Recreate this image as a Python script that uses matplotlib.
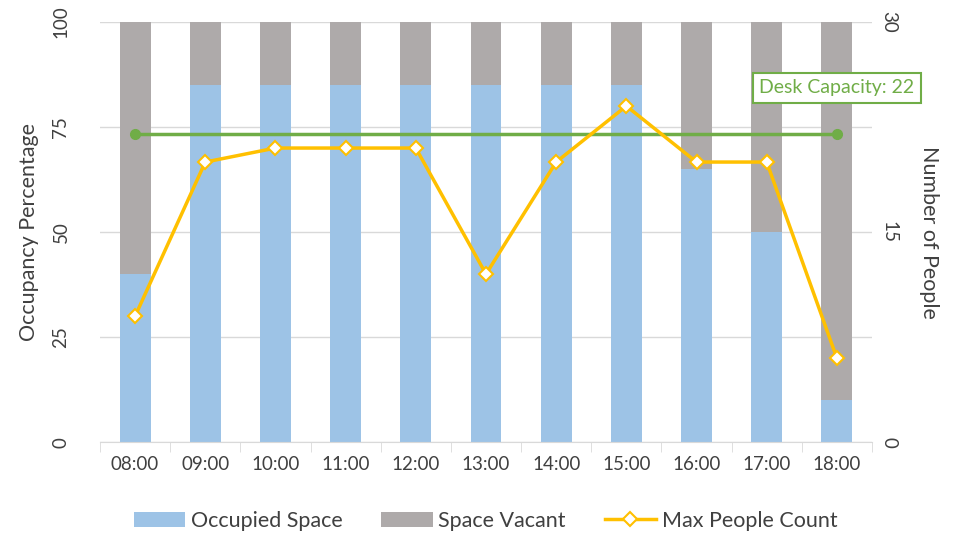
import numpy as np
import matplotlib.pyplot as plt

hours = ["08:00", "09:00", "10:00", "11:00", "12:00", "13:00",
         "14:00", "15:00", "16:00", "17:00", "18:00"]
occupied = [40, 85, 85, 85, 85, 85, 85, 85, 65, 50, 10]
vacant = [100 - v for v in occupied]
max_people = [9, 20, 21, 21, 21, 12, 20, 24, 20, 20, 6]
desk_capacity = 22

BLUE = "#9DC3E6"
GREY = "#AEAAAA"
YELLOW = "#FFC000"
GREEN = "#70AD47"
TEXT = "#404040"

plt.rcParams["font.family"] = ["Lato", "DejaVu Sans"]

fig = plt.figure(figsize=(9.71, 5.36), dpi=100)
ax = fig.add_axes([0.103, 0.175, 0.795, 0.784])
x = np.arange(len(hours))

b1 = ax.bar(x, occupied, width=0.44, color=BLUE, label="Occupied Space", zorder=2)
b2 = ax.bar(x, vacant, width=0.44, bottom=occupied, color=GREY,
            label="Space Vacant", zorder=2)

ax.set_xlim(-0.5, len(hours) - 0.5)
ax.set_ylim(0, 100)
ax.set_yticks([0, 25, 50, 75, 100])
ax.set_yticklabels(["0", "25", "50", "75", "100"], rotation=90, va="center")
ax.set_xticks(x)
ax.set_xticklabels(hours)
ax.set_xticks(np.arange(-0.5, len(hours)), minor=True)
ax.tick_params(axis="x", which="major", length=0, pad=10, labelsize=13.5, colors=TEXT)
ax.tick_params(axis="x", which="minor", length=7, color="#D9D9D9")
ax.tick_params(axis="y", length=0, pad=22, labelsize=13.5, colors=TEXT)
ax.grid(axis="y", color="#D9D9D9", lw=1, zorder=0)
for s in ["top", "right", "left"]:
    ax.spines[s].set_visible(False)
ax.spines["bottom"].set_color("#D9D9D9")
ax.set_ylabel("Occupancy Percentage", fontsize=15.5, color=TEXT, labelpad=10)

ax2 = ax.twinx()
ax2.set_ylim(0, 30)
ax2.set_yticks([0, 15, 30])
ax2.set_yticklabels(["0", "15", "30"], rotation=-90, va="center")
ax2.tick_params(axis="y", length=0, pad=6, labelsize=13.5, colors=TEXT)
for s in ax2.spines.values():
    s.set_visible(False)
ax2.set_ylabel("Number of People", fontsize=15.5, color=TEXT, rotation=-90,
               labelpad=30)

ax2.plot([x[0], x[-1]], [desk_capacity, desk_capacity], color=GREEN, lw=2.5,
         marker="o", ms=7, zorder=3)
ln, = ax2.plot(x, max_people, color=YELLOW, lw=2.5, marker="D", ms=7,
               mfc="white", mec=YELLOW, mew=1.5, label="Max People Count", zorder=4)
ax2.annotate(f"Desk Capacity: {desk_capacity}", xy=(x[-1], 25.3), ha="center",
             va="center", fontsize=14, color=GREEN,
             bbox=dict(boxstyle="square,pad=0.35", fc="white", ec=GREEN, lw=1.5))

fig.legend(handles=[b1, b2, ln], loc="center", bbox_to_anchor=(0.5, 0.028),
           ncol=3, frameon=False, fontsize=15.5, handlelength=2.4,
           handletextpad=0.25, columnspacing=1.8, labelcolor=TEXT)

fig.savefig("out.png", dpi=100)
